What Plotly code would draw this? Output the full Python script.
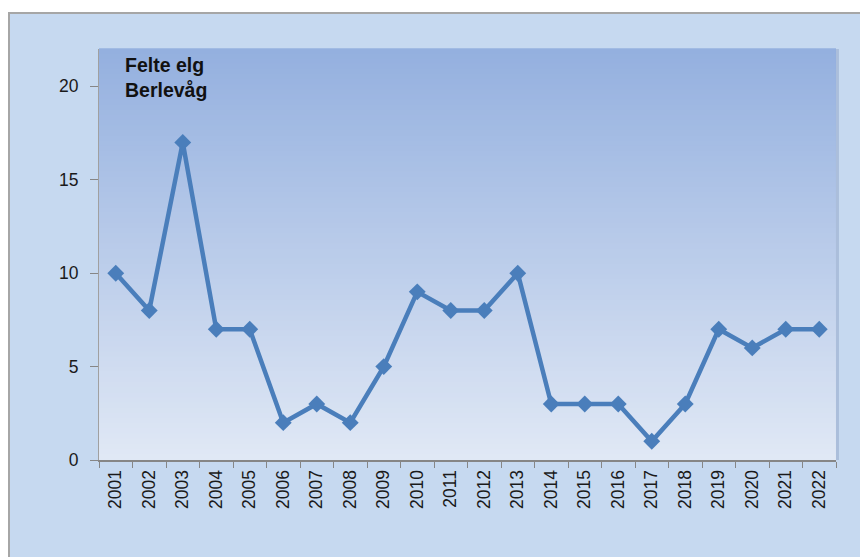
import plotly.graph_objects as go

years = [str(y) for y in range(2001, 2023)]
felte = [10, 8, 17, 7, 7, 2, 3, 2, 5, 9, 8, 8, 10, 3, 3, 3, 1, 3, 7, 6, 7, 7]
y_ticks = [0, 5, 10, 15, 20]
title_lines = ["Felte elg", "Berlevåg"]

W, H = 860, 557
ML, MR, MT, MB = 99, 24, 49, 97
pw, ph = W - ML - MR, H - MT - MB

fig = go.Figure()
fig.add_trace(go.Scatter(
    x=years, y=felte, mode="lines+markers",
    line=dict(color="#4a7ebb", width=4.5),
    marker=dict(symbol="diamond", size=13, color="#4a7ebb"),
    hoverinfo="x+y", showlegend=False,
))

shapes = []
# outer chart frame
shapes.append(dict(type="rect", xref="paper", yref="paper",
                   x0=(9 - ML) / pw, x1=(W + 10 - ML) / pw,
                   y0=-(MB + 10) / ph, y1=(H - MB - 13) / ph,
                   fillcolor="#c6d9f0", line=dict(color="#a6a6a6", width=2),
                   layer="below"))
# vertical gradient plot area
top = (148, 176, 223)
bot = (224, 232, 245)
n = 80
for i in range(n):
    t = i / (n - 1)
    c = tuple(round(top[k] + (bot[k] - top[k]) * t) for k in range(3))
    shapes.append(dict(type="rect", xref="x domain", yref="y domain",
                       x0=0, x1=1, y0=1 - (i + 1) / n, y1=1 - i / n + 0.002,
                       fillcolor="rgb(%d,%d,%d)" % c, line=dict(width=0),
                       layer="below"))
# faint shadow on right edge of plot area
shapes.append(dict(type="line", xref="x domain", yref="y domain",
                   x0=1.002, x1=1.002, y0=0, y1=1,
                   line=dict(color="rgba(120,140,180,0.35)", width=3), layer="below"))

FONT = "Liberation Sans, Arial, sans-serif"
fig.update_layout(
    width=W, height=H,
    margin=dict(l=ML, r=MR, t=MT, b=MB, autoexpand=False),
    paper_bgcolor="white",
    plot_bgcolor="rgba(0,0,0,0)",
    shapes=shapes,
    font=dict(family=FONT, size=17.5, color="#1a1a1a"),
    annotations=[dict(text="<b>" + "<br>".join(title_lines) + "</b>", xref="paper", yref="paper",
                      x=(123 - ML) / pw, y=(H - MB - 52) / ph, xanchor="left", yanchor="top",
                      align="left", showarrow=False,
                      font=dict(family=FONT, size=19.5, color="#111111"))],
    xaxis=dict(type="category", range=[-0.5, len(years) - 0.5], tickangle=-90,
               tickson="boundaries", ticks="outside",
               ticklen=6, tickcolor="#868686", showline=True, linecolor="#868686",
               linewidth=2, showgrid=False, zeroline=False, ticklabelstandoff=1,
               automargin=False),
    yaxis=dict(range=[0, 22], tickvals=y_ticks, ticks="outside", ticklen=8,
               tickcolor="#868686", showline=True, linecolor="#a0a0a0", linewidth=1,
               showgrid=False, zeroline=False, ticklabelstandoff=8, automargin=False),
)
fig.write_html("out.html", config={"displayModeBar": False}, post_script=(
    "document.body.style.margin='0';document.body.style.overflow='hidden';"
    "document.documentElement.style.overflow='hidden';"))
